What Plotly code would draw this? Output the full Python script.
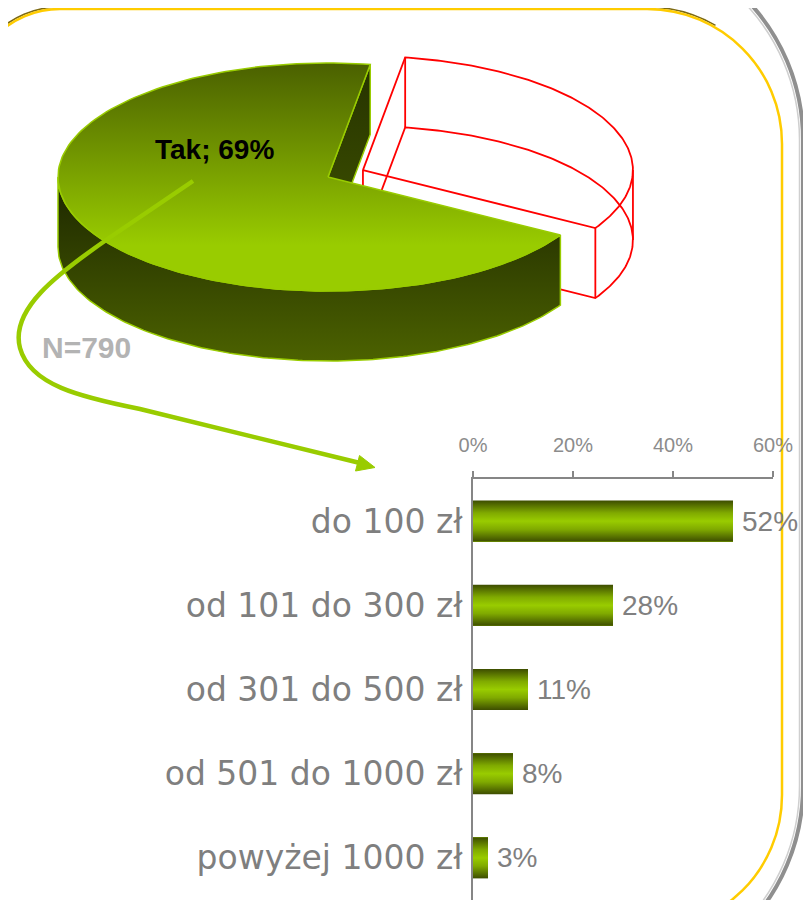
import numpy as np
import plotly.graph_objects as go

# ---------------- data ----------------
pie_labels = ["Tak", "Nie"]
pie_values = [69, 31]
sample_label = "N=790"

categories = ["do 100 zł", "od 101 do 300 zł", "od 301 do 500 zł",
              "od 501 do 1000 zł", "powyżej 1000 zł"]
values = [52, 28, 11, 8, 3]
x_ticks = [0, 20, 40, 60]

# ---------------- styling / geometry params ----------------
W, H = 811, 900
OFF = 8            # page body margin compensation (px)
FONT = "Arial, Liberation Sans, sans-serif"
CAT_FONT = "DejaVu Sans, Verdana, sans-serif"
GREEN = "#99cc00"
CX, CY, RA, RB, DEPTH = 328, 177, 270, 114, 70   # 3D pie projection (px)
START = 9          # deg clockwise from 12 o'clock where the 2nd slice starts
EXPLODE = 0.143    # fraction of radius for exploded slice

fig = go.Figure()


def arc(t0, t1, cx, cy, dz=0.0, n=160):
    r = np.radians(np.linspace(t0, t1, n))
    return list(cx + RA * np.sin(r)), list(cy - RB * np.cos(r) + dz)


def pt(t, cx, cy, dz=0.0):
    r = np.radians(t)
    return cx + RA * np.sin(r), cy - RB * np.cos(r) + dz


def grad(ys, scale):
    return dict(type="vertical", colorscale=scale, start=min(v for v in ys if v is not None),
                stop=max(v for v in ys if v is not None))


total = float(sum(pie_values))
span_nie = 360.0 * pie_values[1] / total
t_nie0, t_nie1 = START, START + span_nie
t_tak0, t_tak1 = t_nie1, START + 360.0

# ---- exploded "Nie" slice: red wireframe ----
mid = np.radians((t_nie0 + t_nie1) / 2)
crx = CX + EXPLODE * RA * np.sin(mid)
cry = CY - EXPLODE * RB * np.cos(mid)
wx, wy = [], []
for dz in (0, DEPTH):
    ax_, ay_ = arc(t_nie0, t_nie1, crx, cry, dz)
    wx += [crx] + ax_ + [crx, None]
    wy += [cry + dz] + ay_ + [cry + dz, None]
for t in (t_nie0, t_nie1, 90):
    if t_nie0 <= t <= t_nie1:
        x0, y0 = pt(t, crx, cry)
        wx += [x0, x0, None]
        wy += [y0, y0 + DEPTH, None]
wx += [crx, crx, None]
wy += [cry, cry + DEPTH, None]
fig.add_trace(go.Scatter(x=wx, y=wy, mode="lines", line=dict(color="#ff0000", width=1.8),
                         hoverinfo="skip", name=pie_labels[1]))

# ---- "Tak" slice: inner wall ----
ex, ey = pt(t_tak1, CX, CY)
iy = [CY, ey, ey + DEPTH, CY + DEPTH, CY]
fig.add_trace(go.Scatter(
    x=[CX, ex, ex, CX, CX], y=iy,
    mode="lines", fill="toself", line=dict(color=GREEN, width=1.5),
    fillgradient=grad(iy, [[0, "#263300"], [1, "#3f5200"]]),
    hoverinfo="skip"))

# ---- outer wall ----
w0, w1 = max(t_tak0, 90), min(t_tak1, 270)
tx, ty = arc(w0, w1, CX, CY)
bx, by = arc(w0, w1, CX, CY, DEPTH)
oy = ty + by[::-1] + [ty[0]]
fig.add_trace(go.Scatter(
    x=tx + bx[::-1] + [tx[0]], y=oy,
    mode="lines", fill="toself", line=dict(color=GREEN, width=1.5),
    fillgradient=grad(oy, [[0, "#1c2600"], [1, "#4c6200"]]),
    hoverinfo="skip"))

# ---- top face ----
fx, fy = arc(t_tak0, t_tak1, CX, CY)
ty_ = [CY] + fy + [CY]
fig.add_trace(go.Scatter(
    x=[CX] + fx + [CX], y=ty_,
    mode="lines", fill="toself", line=dict(color=GREEN, width=1.5),
    fillgradient=grad(ty_, [[0, "#4a6000"], [0.8, "#99cc00"], [1, "#99cc00"]]),
    hoverinfo="skip", name=pie_labels[0]))

# ---------------- bar chart ----------------
HALF = 0.2435
fig.add_trace(go.Bar(x=values, y=list(range(len(values))), orientation="h",
                     width=2 * HALF, marker=dict(color="#86b300", line=dict(width=0)),
                     xaxis="x2", yaxis="y2", hoverinfo="skip"))
BAR_SCALE = [[0, "#3d4d00"], [0.3, "#80aa00"], [0.5, "#99cc00"], [0.7, "#80aa00"], [1, "#3d4d00"]]
for i, v in enumerate(values):
    by_ = [i - HALF, i - HALF, i + HALF, i + HALF, i - HALF]
    fig.add_trace(go.Scatter(
        x=[0, v, v, 0, 0], y=by_,
        mode="lines", fill="toself", line=dict(width=0), xaxis="x2", yaxis="y2",
        fillgradient=grad(by_, BAR_SCALE), hoverinfo="skip"))
    fig.add_annotation(x=v, y=i, xref="x2", yref="y2", text=f"{v}%", showarrow=False,
                       xanchor="left", xshift=7, font=dict(family=FONT, size=28, color="#808080"))

# ---------------- texts on pie ----------------
fig.add_annotation(x=214, y=149, xref="x", yref="y",
                   text=f"<b>{pie_labels[0]}; {pie_values[0]}%</b>", showarrow=False,
                   font=dict(family=FONT, size=28, color="#000000"))
fig.add_annotation(x=40, y=347, xref="x", yref="y", text=f"<b>{sample_label}</b>",
                   showarrow=False, xanchor="left",
                   font=dict(family=FONT, size=30, color="#b3b3b3"))

# ---------------- decorations ----------------
shapes = [
    # gray outer edge
    dict(type="path", path="M 600,-63 C 712,-63 803,28 803,140 L 803,786 C 803,898 712,989 600,989",
         line=dict(color="#8f8f8f", width=4), layer="below"),
    dict(type="path", path="M 600,-60 C 709,-60 799.5,30 799.5,140 L 799.5,786 C 799.5,896 709,986 600,986",
         line=dict(color="#cfcfcf", width=1.5), layer="below"),
    # dark shade over top of yellow frame
    dict(type="path", path="M -32,99 C -32,48 9,7 60,7 L 647,7 C 671,7 694.7,13.4 715.5,25.4",
         line=dict(color="#7d6a12", width=1.6), layer="below"),
    # yellow frame
    dict(type="path",
         path="M -30,99 C -30,49.3 10.3,9 60,9 L 647,9 C 721.6,9 782,69.4 782,144 "
              "L 782,795 C 782,869.6 721.6,930 647,930",
         line=dict(color="#ffcc00", width=2.5), layer="below"),
    # arrow
    dict(type="path",
         path="M 193,181 L 112,236 C 55,275 10,310 20,348 C 30,385 80,397 140,409 L 360,463",
         line=dict(color=GREEN, width=4.5), layer="above"),
    dict(type="path", path="M 375,467.5 L 355.5,471 L 359.5,455.5 Z",
         fillcolor=GREEN, line=dict(color=GREEN, width=1), layer="above"),
]
for s in shapes:
    s.update(xref="x", yref="y")
fig.update_layout(shapes=shapes)

fig.update_layout(
    width=W, height=H, margin=dict(l=0, r=0, t=0, b=0, pad=0, autoexpand=False),
    paper_bgcolor="white", plot_bgcolor="rgba(0,0,0,0)", showlegend=False,
    xaxis=dict(domain=[0, 1], range=[OFF, W + OFF], visible=False, fixedrange=True,
               automargin=False),
    yaxis=dict(domain=[0, 1], range=[H + OFF, OFF], visible=False, fixedrange=True,
               automargin=False),
    xaxis2=dict(domain=[(473 - OFF) / W, (773 - OFF) / W], range=[0, 60], anchor="y2",
                side="top", tickvals=x_ticks, ticktext=[f"{t}%" for t in x_ticks],
                ticks="outside", ticklen=6, tickcolor="#868686", tickwidth=1.5,
                showline=True, linecolor="#868686", linewidth=1.5,
                showgrid=False, zeroline=False, ticklabelstandoff=11, automargin=False,
                tickfont=dict(family=FONT, size=20, color="#8c8c8c")),
    yaxis2=dict(domain=[OFF / H, (H - (479 - OFF)) / H], range=[len(values) - 0.5, -0.5],
                anchor="x2", tickvals=list(range(len(categories))), ticktext=categories,
                ticks="outside", ticklen=2, tickcolor="rgba(0,0,0,0)",
                showline=True, linecolor="#868686", linewidth=1.5,
                showgrid=False, zeroline=False, automargin=False,
                tickfont=dict(family=CAT_FONT, size=33, color="#7f7f7f")),
    bargap=0,
)

fig.write_html("out.html")
